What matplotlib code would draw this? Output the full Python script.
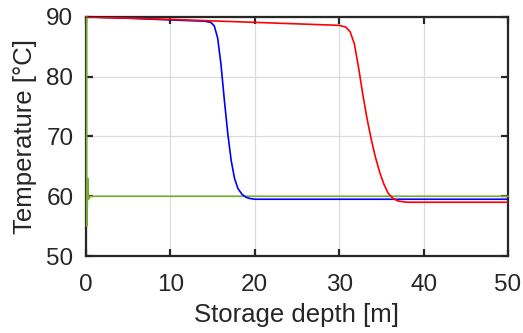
import matplotlib
matplotlib.use("Agg")
import matplotlib.pyplot as plt

plt.rcParams['font.family'] = ['Liberation Sans', 'DejaVu Sans']

# Temperature profiles along the storage depth
blue_x = [0, 5, 10, 14, 14.8, 15.2, 15.6, 16.0, 16.4, 16.8, 17.2, 17.6, 18.0, 18.5, 19.0, 19.5, 20, 30, 50]
blue_t = [90, 89.8, 89.5, 89.3, 89.1, 88.5, 86.5, 82, 76, 70.5, 66, 63, 61.3, 60.3, 59.8, 59.6, 59.5, 59.5, 59.5]

red_x = [0, 10, 20, 30, 30.8, 31.3, 31.8, 32.3, 32.8, 33.3, 33.8, 34.3, 34.8, 35.3, 35.8, 36.4, 37, 38, 50]
red_t = [90, 89.6, 89.1, 88.6, 88.3, 87.5, 85.5, 81.5, 77, 73, 69.5, 66.5, 64, 62, 60.5, 59.6, 59.2, 59.0, 59.0]

green_x = [0.08, 0.08, 0.12, 0.2, 0.3, 0.5, 50]
green_t = [90, 55, 55, 63, 59.5, 60, 60]

x_ticks = [0, 10, 20, 30, 40, 50]
y_ticks = [50, 60, 70, 80, 90]

fig = plt.figure(figsize=(5.23, 3.33), dpi=100)
ax = fig.add_axes([0.1644, 0.2312, 0.8069, 0.7178])

ax.plot(green_x, green_t, color='#77ac30', lw=1.2, clip_on=False, zorder=5)
ax.plot(blue_x, blue_t, color='#0000ff', lw=1.2, zorder=6)
ax.plot(red_x, red_t, color='#ff0000', lw=1.2, zorder=7)

ax.set_xlim(0, 50)
ax.set_ylim(50, 90)
ax.set_xticks(x_ticks)
ax.set_yticks(y_ticks)
ax.grid(True, color='#dcdcdc', lw=0.9)
ax.set_axisbelow(True)

for s in ax.spines.values():
    s.set_linewidth(1.6)
    s.set_color('#262626')
    s.set_zorder(2.5)
ax.tick_params(direction='in', length=5, width=1.6, top=True, right=True,
               labelsize=17.5, colors='#262626')
ax.tick_params(axis='y', pad=9)
ax.tick_params(axis='x', pad=13)
ax.set_xlabel('Storage depth [m]', fontsize=18.5, color='#262626', labelpad=5)
ax.set_ylabel('Temperature [°C]', fontsize=18.5, color='#262626', labelpad=7)

fig.savefig('out.png', dpi=100)
